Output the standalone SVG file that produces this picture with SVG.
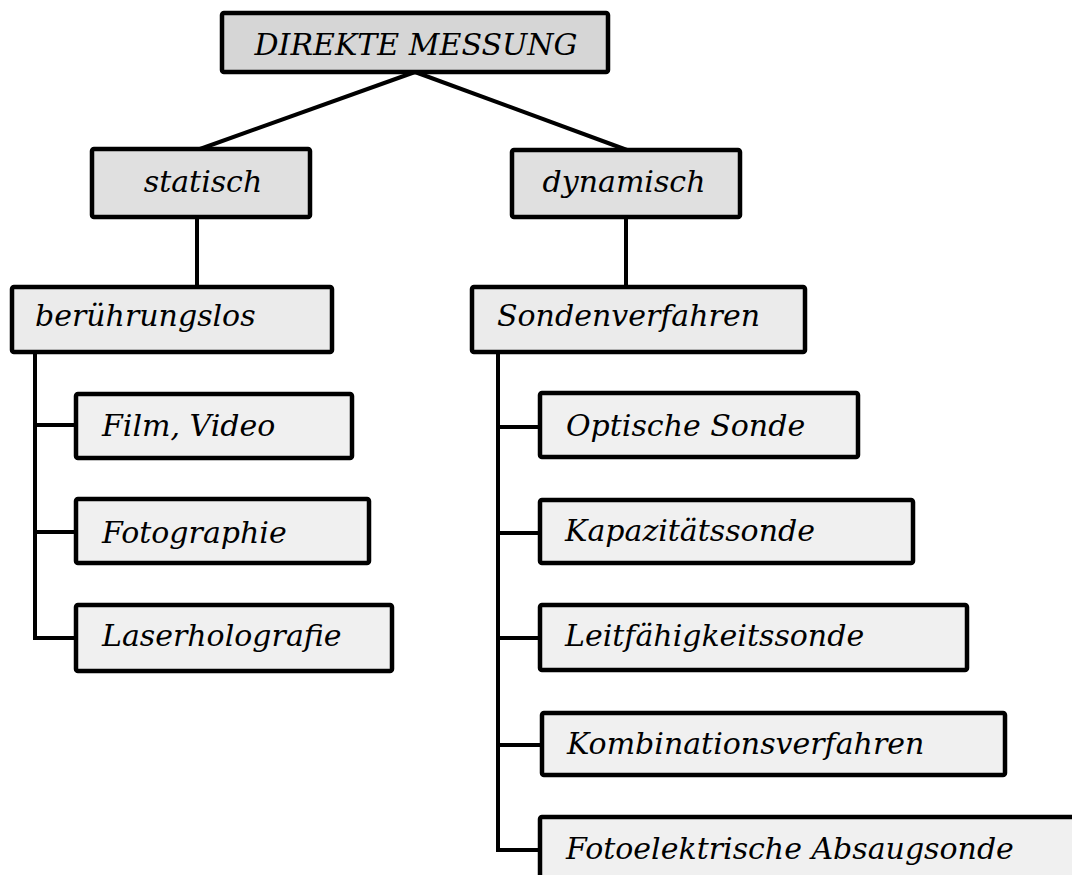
<svg xmlns="http://www.w3.org/2000/svg" width="1072" height="875" viewBox="0 0 1072 875">
  <style>
    .box { stroke: #000; stroke-width: 4.5; stroke-linejoin: round; }
    .l1 { fill: #d6d6d6; }
    .l2 { fill: #e0e0e0; }
    .l3 { fill: #ebebeb; }
    .leaf { fill: #f0f0f0; }
    .lbl { font-family: "DejaVu Serif", "Liberation Serif", serif; font-style: italic; font-size: 30px; fill: #000; }
    .mid { text-anchor: middle; }
    .wire { fill: none; stroke: #000; stroke-width: 4; stroke-linecap: butt; }
  </style>
  <rect width="1072" height="875" fill="#fff"/>

  <!-- connectors -->
  <g id="connectors">
    <line class="wire" x1="415" y1="72" x2="200" y2="149"/>
    <line class="wire" x1="415" y1="72" x2="627" y2="150"/>
    <line class="wire" x1="197" y1="217" x2="197" y2="287"/>
    <line class="wire" x1="626" y1="217" x2="626" y2="287"/>
    <!-- left trunk -->
    <polyline class="wire" points="35,352 35,638 78,638"/>
    <line class="wire" x1="35" y1="425" x2="78" y2="425"/>
    <line class="wire" x1="35" y1="532" x2="78" y2="532"/>
    <!-- right trunk -->
    <polyline class="wire" points="498,352 498,850 542,850"/>
    <line class="wire" x1="498" y1="427" x2="542" y2="427"/>
    <line class="wire" x1="498" y1="533" x2="542" y2="533"/>
    <line class="wire" x1="498" y1="638" x2="542" y2="638"/>
    <line class="wire" x1="498" y1="745" x2="544" y2="745"/>
  </g>

  <g id="direkte-messung">
    <rect class="box l1" x="222" y="13" width="386" height="59" rx="2"/>
    <text class="lbl mid" x="416" y="55">DIREKTE MESSUNG</text>
  </g>

  <g id="statisch">
    <rect class="box l2" x="92" y="149" width="218" height="68" rx="2"/>
    <text class="lbl mid" x="203" y="192">statisch</text>
  </g>

  <g id="dynamisch">
    <rect class="box l2" x="512" y="150" width="228" height="67" rx="2"/>
    <text class="lbl mid" x="624" y="192">dynamisch</text>
  </g>

  <g id="beruehrungslos">
    <rect class="box l3" x="12" y="287" width="320" height="65" rx="2"/>
    <text class="lbl" x="35" y="326">berührungslos</text>
  </g>

  <g id="sondenverfahren">
    <rect class="box l3" x="472" y="287" width="333" height="65" rx="2"/>
    <text class="lbl" x="497" y="326">Sondenverfahren</text>
  </g>

  <g id="film-video">
    <rect class="box leaf" x="76" y="394" width="276" height="64" rx="2"/>
    <text class="lbl" x="102" y="436">Film, Video</text>
  </g>

  <g id="fotographie">
    <rect class="box leaf" x="76" y="499" width="293" height="64" rx="2"/>
    <text class="lbl" x="102" y="543">Fotographie</text>
  </g>

  <g id="laserholografie">
    <rect class="box leaf" x="76" y="605" width="316" height="66" rx="2"/>
    <text class="lbl" x="102" y="646">Laserholografie</text>
  </g>

  <g id="optische-sonde">
    <rect class="box leaf" x="540" y="393" width="318" height="64" rx="2"/>
    <text class="lbl" x="566" y="436">Optische Sonde</text>
  </g>

  <g id="kapazitaetssonde">
    <rect class="box leaf" x="540" y="500" width="373" height="63" rx="2"/>
    <text class="lbl" x="565" y="541">Kapazitätssonde</text>
  </g>

  <g id="leitfaehigkeitssonde">
    <rect class="box leaf" x="540" y="605" width="427" height="65" rx="2"/>
    <text class="lbl" x="565" y="646">Leitfähigkeitssonde</text>
  </g>

  <g id="kombinationsverfahren">
    <rect class="box leaf" x="542" y="713" width="463" height="62" rx="2"/>
    <text class="lbl" x="567" y="754">Kombinationsverfahren</text>
  </g>

  <g id="fotoelektrische-absaugsonde">
    <rect class="box leaf" x="540" y="817" width="545" height="70" rx="2"/>
    <text class="lbl" x="566" y="859">Fotoelektrische Absaugsonde</text>
  </g>
</svg>
